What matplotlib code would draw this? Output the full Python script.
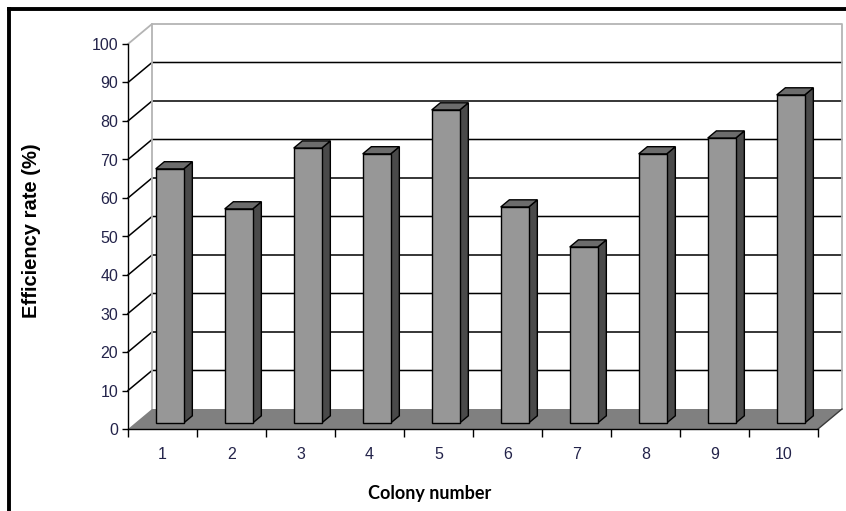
import matplotlib
matplotlib.use("Agg")
import matplotlib.pyplot as plt
from matplotlib.patches import Polygon
from matplotlib.lines import Line2D

# ---- data ----
colonies = ["1", "2", "3", "4", "5", "6", "7", "8", "9", "10"]
efficiency = [66.0, 55.6, 71.4, 69.9, 81.3, 56.1, 45.7, 69.9, 74.0, 85.2]
y_ticks = [0, 10, 20, 30, 40, 50, 60, 70, 80, 90, 100]

# ---- style / geometry ----
W, H = 846, 511
DPI = 100
fig = plt.figure(figsize=(W / DPI, H / DPI), dpi=DPI)
fig.patch.set_facecolor("white")

px_left, px_right, px_bottom, px_top = 128, 818, 429, 44
ax = fig.add_axes([px_left / W, 1 - px_bottom / H,
                   (px_right - px_left) / W, (px_bottom - px_top) / H])
n = len(colonies)
ax.set_xlim(0.5, n + 0.5)
ax.set_ylim(0, 100)
ax.set_facecolor("none")

cat_px = (px_right - px_left) / n
val_px = (px_bottom - px_top) / 100.0
DX = 24 / cat_px          # depth offset in x (category units)
DY = 20 / val_px          # depth offset in y (value units)
x0, x1 = 0.5, n + 0.5
ymax = 100

kw = dict(clip_on=False)
# back wall
ax.add_patch(Polygon([(x0 + DX, DY), (x1 + DX, DY), (x1 + DX, ymax + DY), (x0 + DX, ymax + DY)],
                     closed=True, facecolor="white", edgecolor="none", zorder=0, **kw))
# left wall
ax.add_patch(Polygon([(x0, 0), (x0 + DX, DY), (x0 + DX, ymax + DY), (x0, ymax)],
                     closed=True, facecolor="white", edgecolor="none", zorder=0, **kw))
# gridlines on walls
for v in y_ticks[1:-1]:
    ax.add_line(Line2D([x0, x0 + DX, x1 + DX], [v, v + DY, v + DY],
                       color="black", lw=1.1, zorder=1, **kw))
# wall outlines (grey)
ax.add_line(Line2D([x0, x0 + DX, x1 + DX, x1 + DX], [ymax, ymax + DY, ymax + DY, DY],
                   color="#b4b4b4", lw=1.3, zorder=1, **kw))
ax.add_line(Line2D([x0 + DX, x0 + DX], [DY, ymax + DY], color="#b4b4b4", lw=1.3, zorder=1, **kw))
# floor
ax.add_patch(Polygon([(x0, 0), (x1, 0), (x1 + DX, DY), (x0 + DX, DY)],
                     closed=True, facecolor="#808080", edgecolor="none", zorder=2, **kw))
ax.add_line(Line2D([x1, x1 + DX], [0, DY], color="#3a3a3a", lw=1.0, zorder=2, **kw))

# bars
bar_w = 28 / cat_px
f0, f1 = 0.30, 0.66
for i, v in enumerate(efficiency):
    c = i + 1
    xl = c - bar_w / 2 + f0 * DX
    xr = xl + bar_w
    yb = f0 * DY
    yt = yb + v
    ddx = (f1 - f0) * DX
    ddy = (f1 - f0) * DY
    side = Polygon([(xr, yb), (xr + ddx, yb + ddy), (xr + ddx, yt + ddy), (xr, yt)],
                   closed=True, facecolor="#4a4a4a", edgecolor="black", lw=1.0, zorder=3, **kw)
    top = Polygon([(xl, yt), (xr, yt), (xr + ddx, yt + ddy), (xl + ddx, yt + ddy)],
                  closed=True, facecolor="#6c6c6c", edgecolor="black", lw=1.0, zorder=3, **kw)
    front = Polygon([(xl, yb), (xr, yb), (xr, yt), (xl, yt)],
                    closed=True, facecolor="#979797", edgecolor="black", lw=1.0, zorder=4, **kw)
    ax.add_patch(side)
    ax.add_patch(top)
    ax.add_patch(front)

# axes / ticks
for s in ["top", "right"]:
    ax.spines[s].set_visible(False)
for s in ["left", "bottom"]:
    ax.spines[s].set_color("black")
    ax.spines[s].set_linewidth(1.0)
    ax.spines[s].set_zorder(5)

tick_color = "#23234a"
font = "Liberation Sans"
ax.set_yticks(y_ticks)
ax.set_yticklabels([str(t) for t in y_ticks], fontsize=11.5, family=font, color=tick_color)
ax.tick_params(axis="y", direction="out", length=4, width=1, pad=3)

ax.set_xticks([k + 0.5 for k in range(0, n + 1)])
ax.set_xticklabels([])
ax.set_xticks(range(1, n + 1), minor=True)
ax.set_xticklabels(colonies, minor=True, fontsize=11.5, family=font, color=tick_color)
ax.tick_params(axis="x", which="major", direction="out", length=6, width=1)
ax.tick_params(axis="x", which="minor", length=0, pad=13)

# axis titles
fig.text(430 / W, 1 - 493 / H, "Colony number", ha="center", va="center",
         fontsize=13, fontweight="bold", family="Lato", color="black")
fig.text(32 / W, 1 - 231 / H, "Efficiency rate (%)", ha="center", va="center",
         rotation=90, fontsize=14.5, fontweight="bold", family="Liberation Sans", color="black")

# outer frame (left & top)
fig.add_artist(Line2D([9 / W, 9 / W], [0, 1 - 9 / H], transform=fig.transFigure,
                      color="black", lw=2.8))
fig.add_artist(Line2D([9 / W, 1], [1 - 9 / H, 1 - 9 / H], transform=fig.transFigure,
                      color="black", lw=2.8))

fig.savefig("out.png", dpi=DPI)
